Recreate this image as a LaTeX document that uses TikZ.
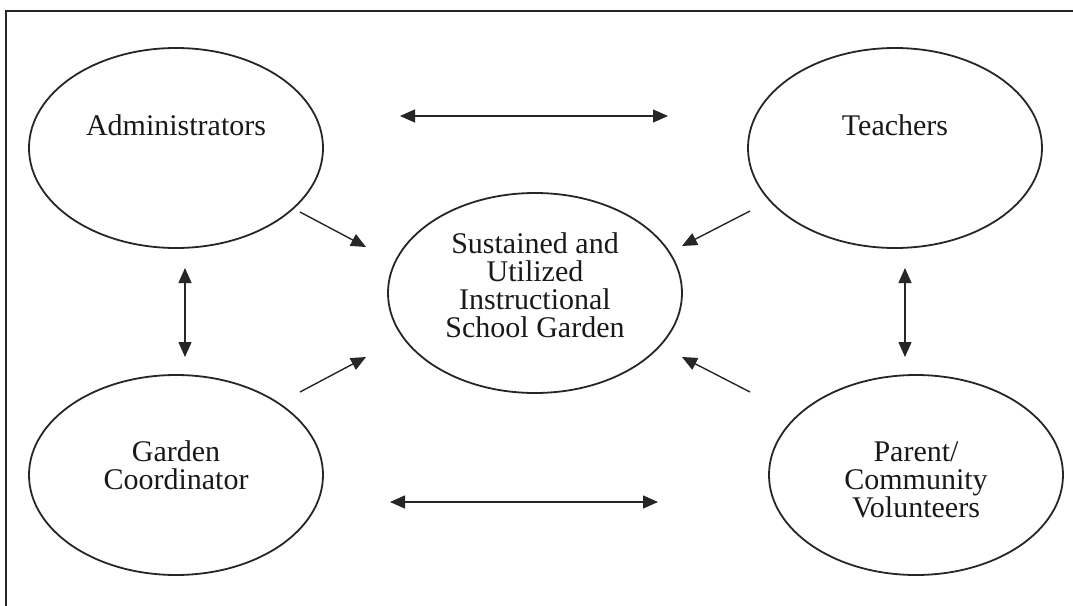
\documentclass[tikz,border=0pt]{standalone}
\usepackage{fontspec}
\setmainfont{Liberation Serif}
\usetikzlibrary{shapes.geometric,arrows.meta}

\begin{document}
\begin{tikzpicture}[x=0.5pt,y=-0.5pt,
  bubble/.style={draw=black!85, ellipse, line width=0.9pt, minimum width=147pt, minimum height=100pt, inner sep=0pt},
  txt/.style={align=center, inner sep=0pt, font=\fontsize{15}{14}\selectfont, text=black!90},
  link/.style={draw=black!85, line width=0.7pt, -{Triangle[length=7.5pt,width=6.5pt]}},
  twoway/.style={link, {Triangle[length=7.5pt,width=6.5pt]}-{Triangle[length=7.5pt,width=6.5pt]}}]
\useasboundingbox (0,0) rectangle (1073,606);
\draw [black!85, line width=1pt] (6,606) -- (6,11) -- (1073,11);
\node [bubble] (admin) at (176,148) {};
\node [txt] (admin-t) at (176,125) {Administrators};
\node [bubble] (teach) at (895,148) {};
\node [txt] (teach-t) at (895,125) {Teachers};
\node [bubble] (coord) at (176,475) {};
\node [txt] (coord-t) at (176,465) {Garden\\Coordinator};
\node [bubble] (parent) at (916,475) {};
\node [txt] (parent-t) at (916,480) {Parent/\\Community\\Volunteers};
\node [bubble] (garden) at (535,293) {};
\node [txt] (garden-t) at (535,285) {Sustained and\\Utilized\\Instructional\\School Garden};
\coordinate (top-l) at (400,116);
\coordinate (top-r) at (668,116);
\coordinate (bot-l) at (390,502);
\coordinate (bot-r) at (658,502);
\coordinate (left-u) at (185,268);
\coordinate (left-d) at (185,357);
\coordinate (right-u) at (905,268);
\coordinate (right-d) at (905,357);
\coordinate (admin-o) at (300,212);
\coordinate (teach-o) at (750,211);
\coordinate (coord-o) at (300,392);
\coordinate (parent-o) at (750,392);
\coordinate (garden-nw) at (366,247);
\coordinate (garden-ne) at (682,246);
\coordinate (garden-sw) at (366,357);
\coordinate (garden-se) at (682,357);
\draw [twoway] (top-l) -- (top-r);
\draw [twoway] (bot-l) -- (bot-r);
\draw [twoway] (left-u) -- (left-d);
\draw [twoway] (right-u) -- (right-d);
\draw [link] (admin-o) -- (garden-nw);
\draw [link] (teach-o) -- (garden-ne);
\draw [link] (coord-o) -- (garden-sw);
\draw [link] (parent-o) -- (garden-se);
\end{tikzpicture}
\end{document}
